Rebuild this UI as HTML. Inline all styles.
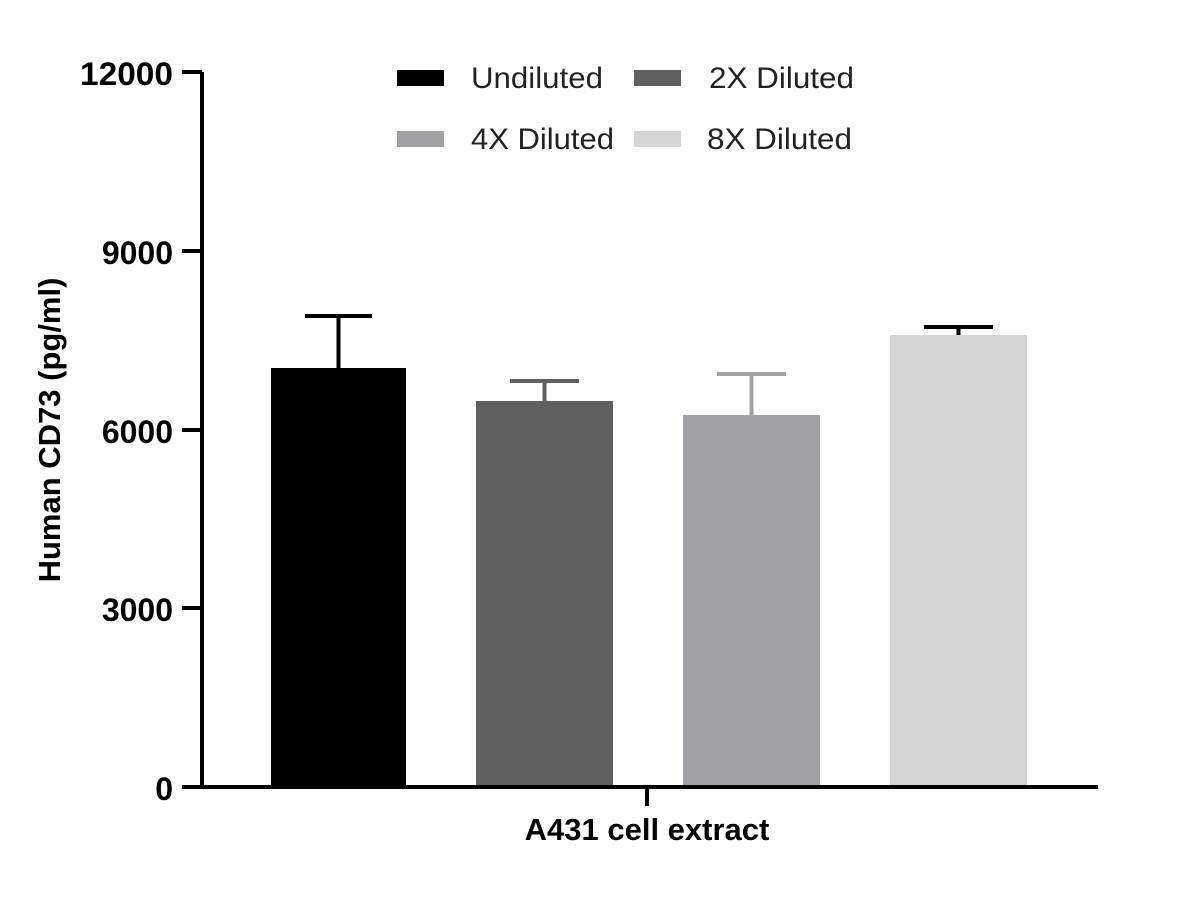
<!DOCTYPE html>
<html><head><meta charset="utf-8"><style>
html,body{margin:0;padding:0;background:#fff;width:1200px;height:900px;overflow:hidden}
text{font-family:"Liberation Sans",Arial,sans-serif}
</style></head><body>
<svg width="1200" height="900" viewBox="0 0 1200 900" xmlns="http://www.w3.org/2000/svg">
<rect x="271" y="368" width="135" height="419" fill="#000"/>
<rect x="476" y="401" width="137" height="386" fill="#606060"/>
<rect x="683" y="415" width="137" height="372" fill="#a0a0a5"/>
<rect x="890" y="335" width="137" height="452" fill="#d5d5d5"/>
<g stroke-width="4" fill="none">
<path d="M338.5 368V316M305 316H372" stroke="#000"/>
<path d="M544.5 401V381M510 381H579" stroke="#606060"/>
<path d="M751.5 415V374M717 374H786" stroke="#a0a0a5"/>
<path d="M958.5 335V327M924 327H993" stroke="#000"/>
</g>
<g stroke="#000" stroke-width="4" fill="none">
<path d="M202 72V789M200 787H1098"/>
<path d="M182 72H202M182 251H202M182 430H202M182 608H202M182 787H202"/>
<path d="M647 787V806"/>
</g>
<g font-size="32" font-weight="bold" text-anchor="end" fill="#000">
<text x="173" y="85" textLength="93" lengthAdjust="spacingAndGlyphs">12000</text>
<text x="173" y="264">9000</text>
<text x="173" y="443">6000</text>
<text x="173" y="621">3000</text>
<text x="173" y="800">0</text>
</g>
<text x="647" y="840" font-size="31" font-weight="bold" text-anchor="middle">A431 cell extract</text>
<text transform="translate(60,430) rotate(-90)" font-size="31" font-weight="bold" text-anchor="middle">Human CD73 (pg/ml)</text>
<rect x="397" y="70" width="47" height="16" fill="#000"/>
<rect x="634" y="70" width="47" height="16" fill="#606060"/>
<rect x="397" y="131" width="47" height="16" fill="#a0a0a5"/>
<rect x="634" y="131" width="47" height="16" fill="#d5d5d5"/>
<g font-size="30" fill="#222">
<text x="471" y="88" textLength="132" lengthAdjust="spacingAndGlyphs">Undiluted</text>
<text x="709" y="88" textLength="145" lengthAdjust="spacingAndGlyphs">2X Diluted</text>
<text x="471" y="149" textLength="143" lengthAdjust="spacingAndGlyphs">4X Diluted</text>
<text x="707" y="149" textLength="145" lengthAdjust="spacingAndGlyphs">8X Diluted</text>
</g>
</svg>
</body></html>
